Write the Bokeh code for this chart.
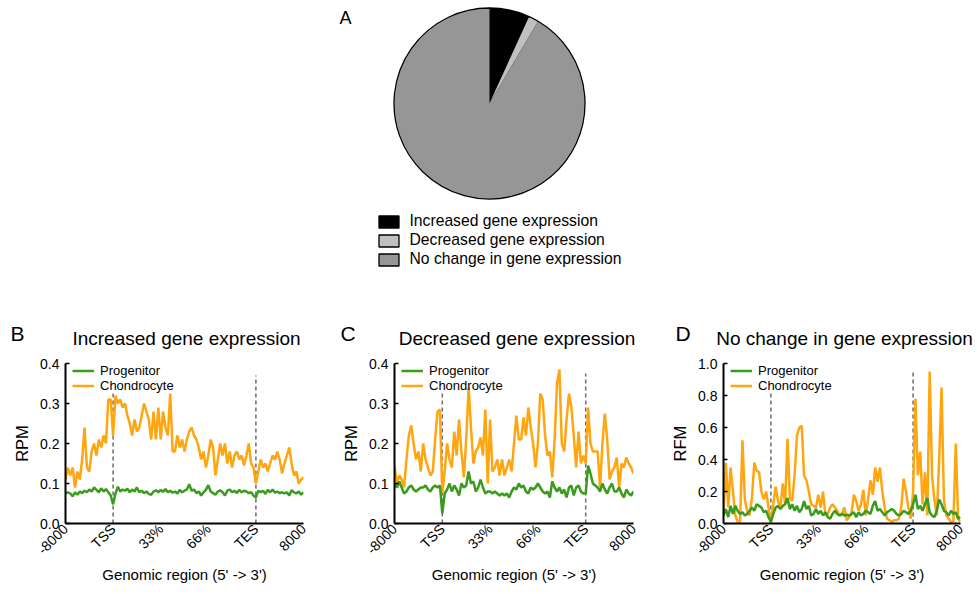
import math
from bokeh.plotting import figure
from bokeh.models import (Range1d, ColumnDataSource, Legend, LegendItem, Label,
                          FixedTicker, PrintfTickFormatter)
from bokeh.layouts import column, row
from bokeh.embed import file_html
from bokeh.resources import INLINE

FONT = "Liberation Sans"

# ---------------- data ----------------
pie_labels = ["Increased gene expression", "Decreased gene expression", "No change in gene expression"]
pie_shares = [6.8, 1.7, 91.5]
pie_colors = ["#000000", "#c0c0c0", "#969696"]

panel_letters = ["B", "C", "D"]
panel_titles = ["Increased gene expression", "Decreased gene expression", "No change in gene expression"]
panel_ylabels = ["RPM", "RPM", "RFM"]

xtick_pos = [0, 20, 40, 60, 80, 100]
xtick_labels = ["-8000", "TSS", "33%", "66%", "TES", "8000"]
tss_tes = [20, 80]
bins = list(range(101))

b_prog = [0.075,0.078,0.075,0.068,0.078,0.072,0.080,0.076,0.082,0.078,
          0.085,0.080,0.090,0.084,0.078,0.088,0.080,0.086,0.078,0.070,
          0.048,0.075,0.092,0.080,0.085,0.082,0.087,0.078,0.085,0.080,
          0.090,0.078,0.082,0.076,0.080,0.074,0.072,0.080,0.083,0.078,
          0.084,0.079,0.086,0.078,0.082,0.077,0.080,0.075,0.084,0.078,
          0.082,0.085,0.098,0.082,0.085,0.076,0.080,0.070,0.078,0.084,
          0.096,0.080,0.076,0.072,0.080,0.083,0.078,0.070,0.082,0.085,
          0.078,0.082,0.076,0.084,0.078,0.082,0.080,0.076,0.078,0.070,
          0.065,0.082,0.078,0.082,0.074,0.084,0.078,0.085,0.077,0.080,
          0.076,0.078,0.075,0.078,0.070,0.083,0.078,0.075,0.080,0.072,0.078]
b_chon = [0.11,0.14,0.12,0.14,0.09,0.13,0.11,0.16,0.24,0.14,
          0.13,0.18,0.20,0.17,0.21,0.19,0.22,0.20,0.31,0.31,
          0.22,0.32,0.30,0.31,0.29,0.30,0.27,0.25,0.22,0.26,
          0.23,0.24,0.27,0.30,0.28,0.26,0.21,0.28,0.21,0.29,
          0.21,0.28,0.24,0.22,0.325,0.18,0.18,0.22,0.19,0.21,
          0.18,0.21,0.23,0.24,0.22,0.21,0.19,0.16,0.18,0.14,
          0.17,0.21,0.19,0.12,0.16,0.20,0.17,0.20,0.15,0.18,
          0.14,0.17,0.18,0.16,0.17,0.145,0.17,0.20,0.15,0.14,
          0.10,0.13,0.16,0.14,0.15,0.13,0.15,0.17,0.16,0.18,
          0.16,0.125,0.15,0.17,0.19,0.15,0.12,0.13,0.10,0.11,0.115]

c_prog = [0.10,0.09,0.105,0.09,0.075,0.08,0.09,0.095,0.085,0.08,
          0.085,0.09,0.09,0.095,0.085,0.08,0.09,0.095,0.09,0.095,
          0.025,0.075,0.085,0.10,0.08,0.095,0.085,0.07,0.10,0.09,
          0.095,0.13,0.10,0.105,0.08,0.09,0.11,0.09,0.075,0.08,
          0.08,0.075,0.08,0.075,0.07,0.075,0.07,0.075,0.065,0.08,
          0.09,0.085,0.10,0.09,0.095,0.08,0.075,0.09,0.085,0.09,
          0.10,0.09,0.08,0.075,0.08,0.065,0.105,0.09,0.08,0.09,
          0.075,0.085,0.065,0.09,0.095,0.07,0.09,0.095,0.08,0.075,
          0.075,0.145,0.125,0.10,0.095,0.09,0.08,0.10,0.085,0.075,
          0.09,0.10,0.08,0.08,0.09,0.075,0.065,0.085,0.075,0.07,0.08]
c_chon = [0.145,0.10,0.12,0.11,0.09,0.16,0.22,0.245,0.20,0.16,
          0.18,0.13,0.20,0.16,0.14,0.12,0.13,0.21,0.28,0.285,
          0.075,0.13,0.20,0.16,0.14,0.23,0.17,0.26,0.18,0.115,
          0.21,0.34,0.24,0.15,0.18,0.19,0.215,0.17,0.285,0.10,
          0.26,0.13,0.14,0.16,0.12,0.16,0.12,0.14,0.16,0.13,
          0.20,0.27,0.21,0.21,0.265,0.22,0.29,0.24,0.20,0.14,
          0.20,0.325,0.31,0.22,0.17,0.18,0.115,0.21,0.35,0.385,
          0.20,0.18,0.26,0.325,0.29,0.22,0.14,0.23,0.15,0.17,
          0.15,0.29,0.20,0.18,0.18,0.18,0.09,0.20,0.275,0.21,
          0.11,0.13,0.14,0.165,0.09,0.15,0.14,0.165,0.15,0.14,0.125]

d_prog = [0.05,0.09,0.04,0.11,0.06,0.11,0.08,0.06,0.07,0.05,
          0.06,0.08,0.10,0.08,0.12,0.11,0.10,0.07,0.08,0.04,
          0.01,0.06,0.10,0.11,0.09,0.11,0.12,0.16,0.09,0.12,
          0.08,0.11,0.07,0.09,0.14,0.09,0.11,0.05,0.06,0.09,
          0.06,0.08,0.05,0.07,0.04,0.03,0.06,0.08,0.06,0.05,
          0.06,0.05,0.055,0.05,0.06,0.07,0.04,0.07,0.05,0.06,
          0.08,0.07,0.06,0.11,0.14,0.08,0.09,0.07,0.05,0.07,
          0.08,0.09,0.08,0.06,0.05,0.06,0.08,0.07,0.06,0.08,
          0.12,0.18,0.09,0.11,0.08,0.12,0.16,0.07,0.05,0.04,
          0.08,0.15,0.12,0.08,0.07,0.05,0.08,0.06,0.07,0.03,0.04]
d_chon = [0.05,0.38,0.10,0.35,0.20,0.05,0.01,0.01,0.52,0.15,
          0.08,0.05,0.16,0.38,0.33,0.32,0.20,0.15,0.20,0.10,
          0.01,0.12,0.23,0.14,0.10,0.25,0.12,0.53,0.16,0.14,
          0.30,0.55,0.60,0.61,0.30,0.27,0.20,0.12,0.11,0.10,
          0.18,0.10,0.20,0.05,0.06,0.10,0.12,0.10,0.08,0.05,
          0.06,0.10,0.02,0.04,0.06,0.18,0.14,0.08,0.12,0.21,
          0.05,0.15,0.27,0.18,0.35,0.26,0.35,0.20,0.10,0.03,
          0.02,0.01,0.02,0.02,0.03,0.10,0.28,0.20,0.10,0.03,
          0.20,0.78,0.30,0.45,0.12,0.32,0.05,0.95,0.30,0.15,
          0.05,0.40,0.85,0.15,0.05,0.03,0.01,0.01,0.50,0.03,0.01]

b_dash_tops = [0.325, 0.37]
c_dash_tops = [0.33, 0.375]
d_dash_tops = [0.83, 0.96]

GREEN = "#3a9c1c"
ORANGE = "#ffa50f"

# ---------------- layout constants (pixels) ----------------
W_TOTAL = 977
HEAD_H = 355          # header: pie, legend, panel letters and titles
LOW_H = 594 - HEAD_H  # line panels
FIG_W = [330, 325, 322]
FRAME_LEFT = [65, 64, 68]
FRAME_W = [238, 239, 237]
LETTER_X = [10, 340, 675]      # page x of panel letters
TITLE_CX = [186, 516.5, 844]   # page x of title centres

# ---------------- header (pie) ----------------
head = figure(width=W_TOTAL, height=HEAD_H, x_range=Range1d(0, W_TOTAL), y_range=Range1d(0, HEAD_H),
              min_border=0, toolbar_location=None, output_backend="svg")
head.axis.visible = False
head.grid.visible = False
head.outline_line_color = None

tot = sum(pie_shares)
starts, ends = [], []
acc = 0.0
for s in pie_shares:
    starts.append(math.pi / 2 - 2 * math.pi * acc / tot)
    acc += s
    ends.append(math.pi / 2 - 2 * math.pi * acc / tot)
src = ColumnDataSource(dict(label=pie_labels, start=starts, end=ends, color=pie_colors))
cx, cy, R = 489, HEAD_H - 103, 95.5
r1 = head.wedge(x=cx, y=cy, radius=R, start_angle="start", end_angle="end", direction="clock",
                fill_color="color", line_color="black", line_width=1.3, source=src)
head.wedge(x=cx, y=cy, radius=R - 0.9, start_angle="start", end_angle="end", direction="clock",
           fill_color="color", line_color=None, source=src)

pleg = Legend(items=[LegendItem(label=lab, renderers=[r1], index=i) for i, lab in enumerate(pie_labels)],
              location=(375.5, HEAD_H - 268), glyph_width=25, glyph_height=15, label_height=15,
              spacing=1, label_standoff=9, padding=0, margin=0,
              label_text_font=FONT, label_text_font_size="15.7px", label_text_color="black",
              border_line_alpha=0, background_fill_alpha=0)
head.add_layout(pleg)
head.add_layout(Label(x=339, y=HEAD_H - 17, text="A", text_font=FONT, text_font_size="18px",
                      text_color="black", text_baseline="alphabetic"))
for lx, letter in zip(LETTER_X, panel_letters):
    head.add_layout(Label(x=lx, y=HEAD_H - 333, text=letter, text_font=FONT, text_font_size="21px",
                          text_color="black", text_baseline="alphabetic"))
for tx, t in zip(TITLE_CX, panel_titles):
    head.add_layout(Label(x=tx, y=HEAD_H - 338, text=t, text_font=FONT, text_font_size="19px",
                          text_color="black", text_baseline="alphabetic", text_align="center"))


# ---------------- line panels ----------------
def panel(k, prog, chon, ymax, ystep, dash_tops):
    fig_w, left, frame_w = FIG_W[k], FRAME_LEFT[k], FRAME_W[k]
    top = 363 - HEAD_H
    frame_h = 160
    p = figure(width=fig_w, height=LOW_H, x_range=Range1d(0, 100), y_range=Range1d(0, ymax),
               min_border_left=left, min_border_right=fig_w - left - frame_w,
               min_border_top=top, min_border_bottom=LOW_H - top - frame_h,
               toolbar_location=None, output_backend="svg")
    p.grid.visible = False
    p.outline_line_color = None

    for ax in (p.xaxis, p.yaxis):
        ax.axis_line_width = 2
        ax.axis_line_color = "black"
        ax.major_label_text_font = FONT
        ax.major_label_text_font_size = "14px"
        ax.major_label_text_color = "black"
        ax.axis_label_text_font = FONT
        ax.axis_label_text_font_size = "15px"
        ax.axis_label_text_font_style = "normal"
        ax.axis_label_text_color = "black"
        ax.minor_tick_line_color = None

    p.xaxis.ticker = FixedTicker(ticks=xtick_pos)
    p.xaxis.major_label_overrides = {t: l for t, l in zip(xtick_pos, xtick_labels)}
    p.xaxis.major_label_orientation = math.pi / 4
    p.xaxis.major_tick_out = 0
    p.xaxis.major_tick_in = 0
    p.xaxis.major_label_standoff = 3
    p.xaxis.axis_label = "Genomic region (5' -> 3')"
    p.xaxis.axis_label_standoff = 0

    n = int(round(ymax / ystep))
    p.yaxis.ticker = FixedTicker(ticks=[round(i * ystep, 3) for i in range(n + 1)])
    p.yaxis.formatter = PrintfTickFormatter(format="%.1f")
    p.yaxis.major_tick_in = 4
    p.yaxis.major_tick_out = 0
    p.yaxis.major_tick_line_width = 1.5
    p.yaxis.major_label_standoff = 6
    p.yaxis.axis_label = panel_ylabels[k]
    p.yaxis.axis_label_text_font_size = "16.5px"
    p.yaxis.axis_label_standoff = 6

    p.segment(x0=tss_tes, y0=[0, 0], x1=tss_tes, y1=dash_tops,
              line_color="#6b6b6b", line_width=1.5, line_dash="4 3")
    ro = p.line(bins, chon, line_color=ORANGE, line_width=2.5)
    rg = p.line(bins, prog, line_color=GREEN, line_width=2.5)

    leg = Legend(items=[LegendItem(label="Progenitor", renderers=[rg]),
                        LegendItem(label="Chondrocyte", renderers=[ro])],
                 location=(7, frame_h - 2 - 28), padding=0, margin=0, spacing=0,
                 glyph_width=22, glyph_height=13, label_height=13, label_standoff=6,
                 label_text_font=FONT, label_text_font_size="13px", label_text_color="black",
                 label_text_line_height=1.0,
                 border_line_alpha=0, background_fill_alpha=0)
    p.add_layout(leg)
    return p


pB = panel(0, b_prog, b_chon, 0.4, 0.1, b_dash_tops)
pC = panel(1, c_prog, c_chon, 0.4, 0.1, c_dash_tops)
pD = panel(2, d_prog, d_chon, 1.0, 0.2, d_dash_tops)

layout = column(head, row(pB, pC, pD, spacing=0), spacing=0)
open("out.html", "w").write(file_html(layout, INLINE))
